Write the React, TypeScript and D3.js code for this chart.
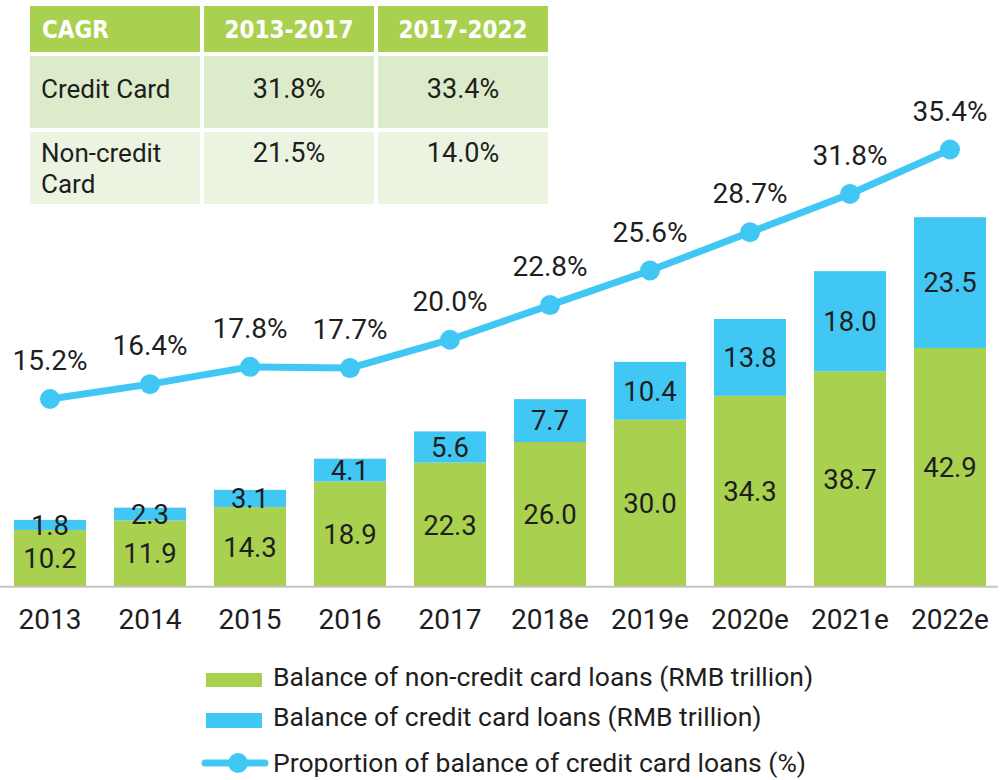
import React from 'react'
import * as d3 from 'd3'

const years = ['2013', '2014', '2015', '2016', '2017', '2018e', '2019e', '2020e', '2021e', '2022e']
const nonCreditLoans = [10.2, 11.9, 14.3, 18.9, 22.3, 26.0, 30.0, 34.3, 38.7, 42.9]
const creditLoans = [1.8, 2.3, 3.1, 4.1, 5.6, 7.7, 10.4, 13.8, 18.0, 23.5]
const creditShare = [15.2, 16.4, 17.8, 17.7, 20.0, 22.8, 25.6, 28.7, 31.8, 35.4]

const cagrHeader = ['CAGR', '2013-2017', '2017-2022']
const cagrRowLabels = [['Credit Card'], ['Non-credit', 'Card']]
const cagrCredit = ['31.8%', '33.4%']
const cagrNonCredit = ['21.5%', '14.0%']

const legendLabels = [
  'Balance of non-credit card loans (RMB trillion)',
  'Balance of credit card loans (RMB trillion)',
  'Proportion of balance of credit card loans (%)',
]

const GREEN = '#a9d04f'
const BLUE = '#40c7f4'
const TEXT = '#1e1e1e'
const FONT = 'Roboto, "Liberation Sans", sans-serif'
const HEAD_FONT = '"DejaVu Sans Condensed", "Liberation Sans Narrow", Roboto, sans-serif'

const W = 1000
const H = 780
const baseY = 586.7

export default function App() {
  const x = d3.scaleBand<string>().domain(years).range([0, W]).paddingInner(0.28).paddingOuter(0.14)
  const y = d3.scaleLinear().domain([0, 70]).range([baseY, baseY - 70 * 5.565])
  const yPct = d3.scaleLinear().domain([0, 40]).range([baseY, baseY - 40 * 12.35])

  const rows = years.map((yr, i) => ({ year: yr, nonCredit: nonCreditLoans[i], credit: creditLoans[i] }))
  const stacked = d3.stack<any>().keys(['nonCredit', 'credit'])(rows)
  const colors = [GREEN, BLUE]

  const line = d3
    .line<number>()
    .x((_, i) => (x(years[i]) as number) + x.bandwidth() / 2)
    .y((d) => yPct(d))

  // table layout
  const colX = [30, 204, 378]
  const colW = 170
  const rowY = [6, 56, 132]
  const rowH = [46, 72, 72]
  const rowFill = [GREEN, '#dcebc9', '#ebf4e1']
  const cagrValues = [cagrCredit, cagrNonCredit]

  return (
    <svg
      width={W}
      height={H}
      style={{ position: 'absolute', left: 0, top: 0, background: '#fff' }}
      fontFamily={FONT}
    >
      {/* CAGR table */}
      {rowY.map((ry, r) =>
        colX.map((cx, c) => (
          <rect key={`cell-${r}-${c}`} x={cx} y={ry} width={colW} height={rowH[r]} fill={rowFill[r]} />
        )),
      )}
      {cagrHeader.map((h, c) => (
        <text
          key={`h-${c}`}
          x={c === 0 ? colX[c] + 12 : colX[c] + colW / 2}
          y={38}
          textAnchor={c === 0 ? 'start' : 'middle'}
          fill="#fff"
          fontWeight={700}
          fontSize={24}
          fontFamily={HEAD_FONT}
        >
          {h}
        </text>
      ))}
      {cagrRowLabels.map((lines, r) => (
        <g key={`rl-${r}`}>
          {lines.map((ln, k) => (
            <text key={k} x={41} y={(r === 0 ? 98 : 162) + k * 31} fontSize={26} fill={TEXT}>
              {ln}
            </text>
          ))}
          {cagrValues[r].map((v, c) => (
            <text
              key={`v-${c}`}
              x={colX[c + 1] + colW / 2}
              y={r === 0 ? 98 : 162}
              textAnchor="middle"
              fontSize={27}
              fill={TEXT}
            >
              {v}
            </text>
          ))}
        </g>
      ))}

      {/* stacked bars */}
      {stacked.map((series, si) => (
        <g key={series.key}>
          {series.map((d, i) => (
            <rect
              key={i}
              x={x(years[i])}
              y={y(d[1])}
              width={x.bandwidth()}
              height={y(d[0]) - y(d[1])}
              fill={colors[si]}
            />
          ))}
          {series.map((d, i) => (
            <text
              key={`t-${i}`}
              x={(x(years[i]) as number) + x.bandwidth() / 2}
              y={(y(d[0]) + y(d[1])) / 2}
              dy="0.36em"
              textAnchor="middle"
              fontSize={27.5}
              fill={TEXT}
            >
              {(d[1] - d[0]).toFixed(1)}
            </text>
          ))}
        </g>
      ))}

      {/* axis line */}
      <line x1={0} x2={998} y1={baseY} y2={baseY} stroke="#c4c4c4" strokeWidth={2} />
      {years.map((yr) => (
        <text
          key={yr}
          x={(x(yr) as number) + x.bandwidth() / 2}
          y={629}
          textAnchor="middle"
          fontSize={28}
          fill={TEXT}
        >
          {yr}
        </text>
      ))}

      {/* proportion line */}
      <path d={line(creditShare) || ''} fill="none" stroke={BLUE} strokeWidth={7} strokeLinejoin="round" />
      {creditShare.map((p, i) => {
        const cx = (x(years[i]) as number) + x.bandwidth() / 2
        return (
          <g key={`p-${i}`}>
            <circle cx={cx} cy={yPct(p)} r={10} fill={BLUE} />
            <text x={cx} y={yPct(p) - 29} textAnchor="middle" fontSize={28} fill={TEXT}>
              {p.toFixed(1)}%
            </text>
          </g>
        )
      })}

      {/* legend */}
      <rect x={206} y={673} width={56} height={14} fill={GREEN} />
      <text x={273} y={686} fontSize={26.5} fill={TEXT}>
        {legendLabels[0]}
      </text>
      <rect x={206} y={713} width={56} height={15} fill={BLUE} />
      <text x={273} y={726} fontSize={26.5} fill={TEXT}>
        {legendLabels[1]}
      </text>
      <line x1={205} x2={265} y1={763} y2={763} stroke={BLUE} strokeWidth={7} strokeLinecap="round" />
      <circle cx={238} cy={763} r={10} fill={BLUE} />
      <text x={273} y={772} fontSize={26.5} fill={TEXT}>
        {legendLabels[2]}
      </text>
    </svg>
  )
}
